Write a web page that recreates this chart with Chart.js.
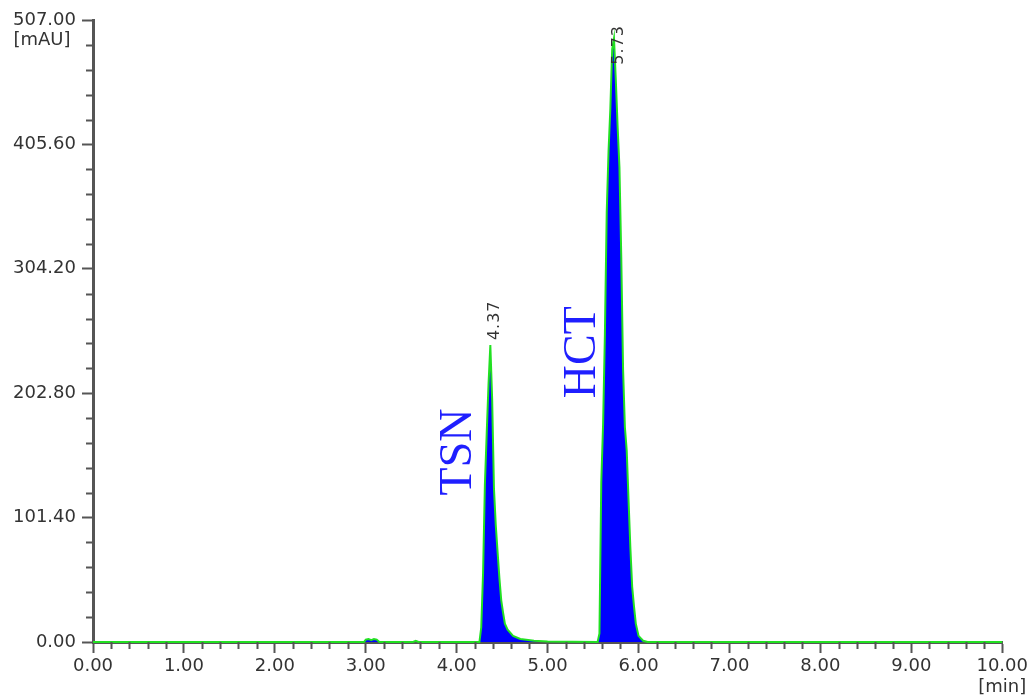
<!DOCTYPE html>
<html>
<head>
<meta charset="utf-8">
<script src="https://cdn.jsdelivr.net/npm/chart.js@4"></script>
<style>
  body { margin: 0; background: #fff; }
</style>
</head>
<body>
<canvas id="chromatogram" width="1031" height="698"></canvas>
<script>
// retention time (min) and absorbance (mAU)
const timeMin = [
    0.00, 2.98, 3.00, 3.03, 3.06, 3.09, 3.12, 3.15, 3.52, 3.55, 3.58,
    4.25, 4.27, 4.29, 4.31, 4.33, 4.35, 4.37, 4.39, 4.41, 4.43, 4.45, 4.47,
    4.49, 4.51, 4.53, 4.56, 4.62, 4.70, 4.85, 5.00,
    5.55, 5.57, 5.59, 5.61, 5.63, 5.65, 5.67, 5.69, 5.71, 5.73, 5.75, 5.77,
    5.79, 5.81, 5.83, 5.85, 5.87, 5.89, 5.91, 5.93, 5.95, 5.97, 6.00, 6.05,
    6.10, 10.00
];
const absorbance = [
    0, 0, 2, 2.5, 1.5, 2.5, 2, 0, 0, 1, 0,
    0, 12, 56, 128, 170, 210, 242, 198, 125, 95, 73, 52,
    34, 24, 15, 10, 5, 2.5, 1, 0.5,
    0, 7, 130, 177, 251, 350, 400, 435, 483, 492, 458, 420,
    387, 314, 222, 175, 156, 116, 77, 45, 29, 15, 5, 1,
    0, 0
];

const peakNames = ['TSN', 'HCT'];
const peakTimes = [4.37, 5.73];
const peakHeights = [242, 492];

const yTickValues = [0, 101.4, 202.8, 304.2, 405.6, 507];
const xTickValues = [0, 1, 2, 3, 4, 5, 6, 7, 8, 9, 10];

const axisColor = '#555555';
const textColor = '#333333';

// small ticks between the labelled ones
const minorTicks = {
    id: 'minorTicks',
    afterDraw(chart) {
        const { ctx, scales: { x, y } } = chart;
        ctx.save();
        ctx.strokeStyle = axisColor;
        ctx.lineWidth = 2;
        ctx.beginPath();
        for (let i = 0; i < xTickValues.length - 1; i++) {
            for (let k = 1; k < 5; k++) {
                const px = Math.round(x.getPixelForValue(xTickValues[i] + k * 0.2)) + 0.5;
                ctx.moveTo(px, y.bottom);
                ctx.lineTo(px, y.bottom + 7);
            }
        }
        for (let i = 0; i < yTickValues.length - 1; i++) {
            const step = (yTickValues[i + 1] - yTickValues[i]) / 5;
            for (let k = 1; k < 5; k++) {
                const py = Math.round(y.getPixelForValue(yTickValues[i] + k * step)) + 0.5;
                ctx.moveTo(x.left, py);
                ctx.lineTo(x.left - 7, py);
            }
        }
        ctx.stroke();
        ctx.restore();
    }
};

// peak labels, retention times and axis units
const peakLabels = {
    id: 'peakLabels',
    afterDatasetsDraw(chart) {
        const { ctx, scales: { x, y }, chartArea } = chart;
        ctx.save();

        peakTimes.forEach(function (t, i) {
            const px = x.getPixelForValue(t);
            const py = y.getPixelForValue(peakHeights[i]);
            const txt = t.toFixed(2);
            ctx.font = '16px "DejaVu Sans"';
            ctx.letterSpacing = '1px';
            const len = ctx.measureText(txt).width;
            const base = Math.max(py - 5, chartArea.top + len + 5);
            ctx.save();
            ctx.translate(px + 5, base);
            ctx.rotate(-Math.PI / 2);
            ctx.fillStyle = textColor;
            ctx.textAlign = 'left';
            ctx.textBaseline = 'middle';
            ctx.fillText(txt, 0, 0);
            ctx.restore();
            ctx.letterSpacing = '0px';

            // compound name to the left of the peak
            const nameY = y.getPixelForValue(peakHeights[i] * (i === 0 ? 0.64 : 0.48));
            ctx.save();
            ctx.translate(px - 31, nameY);
            ctx.rotate(-Math.PI / 2);
            ctx.font = '46px "Liberation Serif"';
            ctx.fillStyle = '#1f1fff';
            ctx.textAlign = 'center';
            ctx.textBaseline = 'middle';
            ctx.fillText(peakNames[i], 0, 0);
            ctx.restore();
        });

        ctx.font = '18px "DejaVu Sans"';
        ctx.fillStyle = textColor;
        ctx.textAlign = 'center';
        ctx.textBaseline = 'middle';
        ctx.fillText('[mAU]', 42, chartArea.top + 20);
        ctx.fillText('[min]', x.getPixelForValue(10), chartArea.bottom + 45);
        ctx.restore();
    }
};

const ctx = document.getElementById('chromatogram').getContext('2d');

new Chart(ctx, {
    type: 'line',
    data: {
        datasets: [{
            label: 'UV',
            data: timeMin.map((t, i) => ({ x: t, y: absorbance[i] })),
            borderColor: '#22e022',
            borderWidth: 2,
            backgroundColor: '#0000ff',
            fill: 'origin',
            pointRadius: 0,
            tension: 0,
            clip: 4
        }]
    },
    options: {
        responsive: false,
        animation: false,
        layout: {
            padding: { top: 20, right: 28, left: 0, bottom: 0 }
        },
        plugins: {
            legend: { display: false },
            tooltip: { enabled: false }
        },
        scales: {
            x: {
                type: 'linear',
                min: 0,
                max: 10,
                afterBuildTicks: s => { s.ticks = xTickValues.map(v => ({ value: v })); },
                afterFit: s => { s.height = 56; },
                ticks: {
                    callback: v => v.toFixed(2),
                    color: textColor,
                    font: { family: 'DejaVu Sans', size: 18 },
                    padding: 3,
                    maxRotation: 0
                },
                grid: {
                    drawOnChartArea: false,
                    tickLength: 11,
                    tickColor: axisColor,
                    tickWidth: 2
                },
                border: { color: axisColor, width: 3 }
            },
            y: {
                min: 0,
                max: 507,
                afterBuildTicks: s => { s.ticks = yTickValues.map(v => ({ value: v })); },
                afterFit: s => { s.width = 93; },
                ticks: {
                    callback: v => v.toFixed(2),
                    color: textColor,
                    font: { family: 'DejaVu Sans', size: 18 },
                    padding: 6
                },
                grid: {
                    drawOnChartArea: false,
                    tickLength: 11,
                    tickColor: axisColor,
                    tickWidth: 2
                },
                border: { color: axisColor, width: 3 }
            }
        }
    },
    plugins: [minorTicks, peakLabels]
});
</script>
</body>
</html>
